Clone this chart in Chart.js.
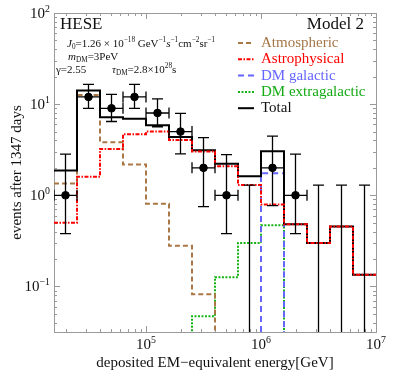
<!DOCTYPE html>
<html lang="en">
<head>
    <meta charset="UTF-8">
    <title>HESE Model 2</title>
    <script src="https://cdn.jsdelivr.net/npm/chart.js@4"></script>
    <style>
        body { margin: 0; background: #fff; }
    </style>
</head>
<body>
<canvas id="myChart" width="399" height="387"></canvas>
<script>
    // bins in log10(E/GeV)
    const binLogEdges = [4.2, 4.4, 4.6, 4.8, 5.0, 5.2, 5.4, 5.6, 5.8, 6.0, 6.2, 6.4, 6.6, 6.8, 7.0];

    // observed events and error bars
    const eventCounts = [1, 12, 9, 12, 8, 5, 2, 1, 0, 2, 1, 0, 0, 0];
    const errLow = [0.38, 9.0, 6.45, 9.0, 5.65, 2.85, 0.75, 0.38, null, 0.77, 0.38, null, null, null];
    const errHigh = [2.83, 16.5, 12.8, 16.5, 11.4, 7.9, 4.3, 2.8, 1.29, 4.45, 2.83, 1.29, 1.29, 1.29];

    // model histograms
    const atmoEvents = [1.35, 12.6, 3.82, 2.17, 0.81, 0.28, 0.082, 0.012, 0.006, 0.003, 0.002, 0.001, 0.001, 0.001];
    const astroEvents = [0.50, 1.6, 3.23, 4.68, 5.0, 4.05, 3.02, 2.08, 1.3, 0.79, 0.48, 0.30, 0.455, 0.134];
    const dmGalEvents = [0.005, 0.005, 0.005, 0.005, 0.005, 0.005, 0.005, 0.005, 0.005, 1.75, 0.005, 0.005, 0.005, 0.005];
    const dmExtraEvents = [0.004, 0.006, 0.009, 0.012, 0.016, 0.022, 0.047, 0.126, 0.30, 0.47, 0.005, 0.003, 0.002, 0.001];
    const totalEvents = [1.87, 14.1, 7.2, 6.9, 5.85, 4.35, 3.12, 2.22, 1.62, 3.05, 0.48, 0.30, 0.455, 0.134];

    // axis ticks (exponents of 10)
    const xTickExps = [5, 6, 7];
    const yTickExps = [-1, 0, 1, 2];

    const FONT = '"Liberation Serif", "DejaVu Serif", serif';

    // histogram as step line: one point per lower edge + closing point
    let histo = (vals) => {
        let pts = vals.map((v, i) => ({x: Math.pow(10, binLogEdges[i]), y: v}));
        pts.push({x: Math.pow(10, binLogEdges[binLogEdges.length - 1]), y: vals[vals.length - 1]});
        return pts;
    };

    let binCenter = (i) => Math.pow(10, (binLogEdges[i] + binLogEdges[i + 1]) / 2);

    // text with sub/superscripts: parts = [[text, style]], style may hold 'i', '^', '_'
    let drawRich = (ctx, x, y, parts, size, align) => {
        let fontOf = (p) => (p[1].includes('i') ? 'italic ' : '') +
            ((p[1].includes('^') || p[1].includes('_')) ? size * 0.66 : size) + 'px ' + FONT;
        let widths = parts.map(p => { ctx.font = fontOf(p); return ctx.measureText(p[0]).width; });
        let total = widths.reduce((a, b) => a + b, 0);
        let cx = align === 'right' ? x - total : (align === 'center' ? x - total / 2 : x);
        ctx.textAlign = 'left';
        ctx.textBaseline = 'alphabetic';
        parts.forEach((p, i) => {
            ctx.font = fontOf(p);
            let dy = p[1].includes('^') ? -size * 0.42 : (p[1].includes('_') ? size * 0.22 : 0);
            ctx.fillText(p[0], cx, y + dy);
            cx += widths[i];
        });
    };

    const framePlugin = {
        id: 'frame',
        beforeDatasetsDraw(chart) {
            const ctx = chart.ctx;
            const a = chart.chartArea;
            const xs = chart.scales.x, ys = chart.scales.y;
            ctx.save();
            ctx.strokeStyle = '#9a9a9a';
            ctx.lineWidth = 1;
            ctx.strokeRect(a.left + 0.5, a.top + 0.5, a.right - a.left, a.bottom - a.top);
            // inward ticks on all sides
            for (let e = 4; e <= 7; e++) {
                for (let m = 1; m <= 9; m++) {
                    let v = m * Math.pow(10, e);
                    if (v < xs.min * 0.999 || v > xs.max * 1.001) continue;
                    let px = Math.round(xs.getPixelForValue(v)) + 0.5;
                    let len = m === 1 ? 6 : 3;
                    ctx.beginPath();
                    ctx.moveTo(px, a.bottom); ctx.lineTo(px, a.bottom - len);
                    ctx.moveTo(px, a.top); ctx.lineTo(px, a.top + len);
                    ctx.stroke();
                }
            }
            for (let e = -2; e <= 2; e++) {
                for (let m = 1; m <= 9; m++) {
                    let v = m * Math.pow(10, e);
                    if (v < ys.min * 0.999 || v > ys.max * 1.001) continue;
                    let py = Math.round(ys.getPixelForValue(v)) + 0.5;
                    let len = m === 1 ? 6 : 3;
                    ctx.beginPath();
                    ctx.moveTo(a.left, py); ctx.lineTo(a.left + len, py);
                    ctx.moveTo(a.right, py); ctx.lineTo(a.right - len, py);
                    ctx.stroke();
                }
            }
            ctx.restore();
        },
        afterDatasetsDraw(chart) {
            const ctx = chart.ctx;
            const a = chart.chartArea;
            const xs = chart.scales.x, ys = chart.scales.y;
            ctx.save();
            ctx.beginPath();
            ctx.rect(a.left, a.top, a.right - a.left, a.bottom - a.top);
            ctx.clip();
            ctx.strokeStyle = '#000';
            ctx.lineWidth = 1.3;
            const cap = 5.5;
            eventCounts.forEach((n, i) => {
                let px = xs.getPixelForValue(binCenter(i));
                let top = ys.getPixelForValue(errHigh[i]);
                let bot = errLow[i] === null ? a.bottom + 5 : ys.getPixelForValue(errLow[i]);
                ctx.beginPath();
                ctx.moveTo(px, top); ctx.lineTo(px, bot);
                ctx.moveTo(px - cap, top); ctx.lineTo(px + cap, top);
                if (errLow[i] !== null) { ctx.moveTo(px - cap, bot); ctx.lineTo(px + cap, bot); }
                if (n > 0) {
                    let py = ys.getPixelForValue(n);
                    let x0 = xs.getPixelForValue(Math.pow(10, binLogEdges[i]));
                    let x1 = xs.getPixelForValue(Math.pow(10, binLogEdges[i + 1]));
                    ctx.moveTo(x0, py); ctx.lineTo(x1, py);
                    ctx.moveTo(x0, py - cap); ctx.lineTo(x0, py + cap);
                    ctx.moveTo(x1, py - cap); ctx.lineTo(x1, py + cap);
                }
                ctx.stroke();
            });
            ctx.restore();
        },
        afterDraw(chart) {
            const ctx = chart.ctx;
            const a = chart.chartArea;
            const xs = chart.scales.x, ys = chart.scales.y;
            ctx.save();
            ctx.fillStyle = '#111';
            // tick labels
            xTickExps.forEach(e => {
                drawRich(ctx, xs.getPixelForValue(Math.pow(10, e)), a.bottom + 17,
                    [['10', ''], [String(e).replace('-', '−'), '^']], 15, 'center');
            });
            yTickExps.forEach(e => {
                drawRich(ctx, a.left - 4, ys.getPixelForValue(Math.pow(10, e)) + 5,
                    [['10', ''], [String(e).replace('-', '−'), '^']], 15, 'right');
            });
            // axis titles
            ctx.font = '15px ' + FONT;
            ctx.textAlign = 'center';
            ctx.textBaseline = 'alphabetic';
            ctx.fillText('deposited EM−equivalent energy[GeV]', (a.left + a.right) / 2, 367);
            ctx.save();
            ctx.translate(21, (a.top + a.bottom) / 2);
            ctx.rotate(-Math.PI / 2);
            ctx.fillText('events after 1347 days', 0, 0);
            ctx.restore();

            // titles in plot
            drawRich(ctx, a.left + 6, 29, [['HESE', '']], 17, 'left');
            drawRich(ctx, a.right - 12, 29, [['Model 2', '']], 17, 'right');

            // parameters
            let s = 11;
            drawRich(ctx, 67, 47, [['J', 'i'], ['0', '_'], ['=1.26 × 10', ''], ['−18', '^'], [' GeV', ''], ['−1', '^'],
                ['s', 'i'], ['−1', '^'], ['cm', ''], ['−2', '^'], ['sr', ''], ['−1', '^']], s, 'left');
            drawRich(ctx, 68, 60, [['m', 'i'], ['DM', '_'], ['=3PeV', '']], s, 'left');
            drawRich(ctx, 56, 73, [['γ=2.55', '']], s, 'left');
            drawRich(ctx, 112, 73, [['τ', 'i'], ['DM', '_'], ['=2.8×10', ''], ['28', '^'], ['s', '']], s, 'left');

            // legend
            let row = 0;
            chart.data.datasets.forEach(ds => {
                if (!ds.inLegend) return;
                let y = 47 + row * 16.3;
                ctx.save();
                ctx.strokeStyle = ds.borderColor;
                ctx.lineWidth = 2;
                ctx.setLineDash(ds.borderDash || []);
                ctx.beginPath();
                ctx.moveTo(238, y - 4);
                ctx.lineTo(254, y - 4);
                ctx.stroke();
                ctx.restore();
                ctx.fillStyle = ds.textColor;
                drawRich(ctx, 261, y, [[ds.label, '']], 15, 'left');
                row++;
            });
            ctx.restore();
        }
    };

    let ctx = document.getElementById('myChart').getContext('2d');
    let chart = new Chart(ctx, {
        type: 'line',
        data: {
            datasets: [{
                label: 'HESE data',
                data: eventCounts.map((n, i) => ({x: binCenter(i), y: n > 0 ? n : null})),
                showLine: false,
                pointRadius: 3.8,
                pointBackgroundColor: '#000',
                pointBorderColor: '#000',
                order: 0
            }, {
                label: 'Atmospheric',
                data: histo(atmoEvents),
                borderColor: 'rgb(170,120,70)',
                textColor: 'rgb(165,118,72)',
                borderDash: [5, 3],
                borderWidth: 2,
                stepped: true,
                pointRadius: 0,
                inLegend: true,
                order: 4
            }, {
                label: 'Astrophysical',
                data: histo(astroEvents),
                borderColor: 'rgb(255,0,0)',
                textColor: 'rgb(255,0,0)',
                borderDash: [4, 1.5, 1.5, 1.5],
                borderWidth: 2,
                stepped: true,
                pointRadius: 0,
                inLegend: true,
                order: 1
            }, {
                label: 'DM galactic',
                data: histo(dmGalEvents),
                borderColor: 'rgb(100,100,255)',
                textColor: 'rgb(100,100,255)',
                borderDash: [6, 4],
                borderWidth: 2,
                stepped: true,
                pointRadius: 0,
                inLegend: true,
                order: 3
            }, {
                label: 'DM extragalactic',
                data: histo(dmExtraEvents),
                borderColor: 'rgb(20,180,20)',
                textColor: 'rgb(20,170,20)',
                borderDash: [2, 1.5],
                borderWidth: 2,
                stepped: true,
                pointRadius: 0,
                inLegend: true,
                order: 5
            }, {
                label: 'Total',
                data: histo(totalEvents),
                borderColor: '#000',
                textColor: '#111',
                borderWidth: 2,
                stepped: true,
                pointRadius: 0,
                inLegend: true,
                order: 2
            }]
        },
        options: {
            responsive: false,
            animation: false,
            devicePixelRatio: 1,
            layout: {padding: {left: 54, right: 23, top: 13, bottom: 55}},
            scales: {
                x: {type: 'logarithmic', min: Math.pow(10, 4.2), max: 1e7, display: false},
                y: {type: 'logarithmic', min: Math.pow(10, -1.5), max: 100, display: false}
            },
            plugins: {
                legend: {display: false},
                tooltip: {enabled: false}
            }
        },
        plugins: [framePlugin]
    });
</script>
</body>
</html>
